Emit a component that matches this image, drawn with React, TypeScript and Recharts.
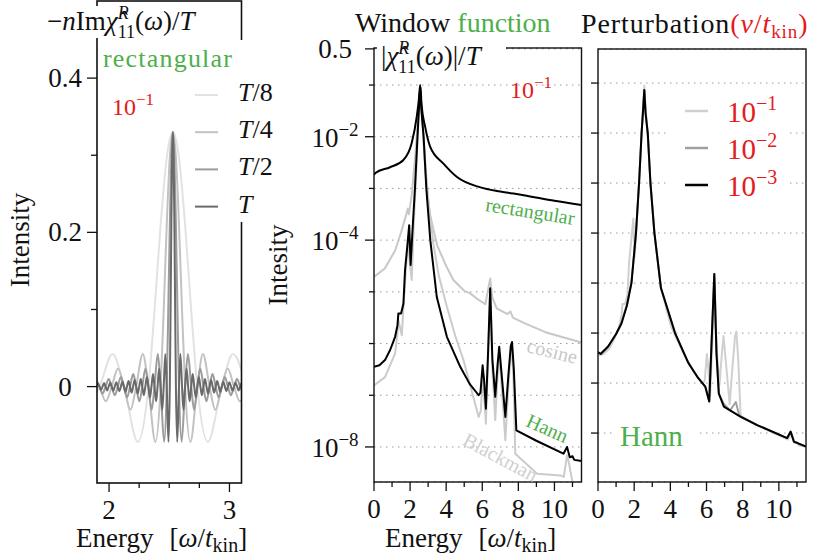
import React from 'react';
import { LineChart, Line, XAxis, YAxis, CartesianGrid } from 'recharts';

const FONT = "'Liberation Serif', 'Times New Roman', 'DejaVu Serif', serif";
const INK = '#111';
const RED = '#e41a1c';
const GREEN = '#4daf4a';

type Pt = [number, number];

// left panel: -n Im chi / T, four window lengths
const sincT8: Pt[] = [
  [1.8256, -0.0301], [1.921, 0], [2.0306, 0.0424], [2.124, 0], [2.2397, -0.0717], [2.327, 0],
  [2.3777, 0.099], [2.4285, 0.21], [2.4792, 0.297], [2.53, 0.33], [2.5808, 0.297], [2.6315, 0.21],
  [2.6823, 0.099], [2.733, 0], [2.8203, -0.0717], [2.936, 0], [3.0294, 0.0424], [3.139, 0],
];
const sincT4: Pt[] = [
  [1.8716, 0.0162], [1.9204, 0], [1.9732, -0.0191], [2.022, 0], [2.0748, 0.0234], [2.1236, 0],
  [2.1775, -0.0301], [2.2252, 0], [2.2801, 0.0424], [2.3268, 0], [2.3847, -0.0717], [2.4284, 0],
  [2.4538, 0.099], [2.4792, 0.21], [2.5046, 0.297], [2.53, 0.33], [2.5554, 0.297], [2.5808, 0.21],
  [2.6062, 0.099], [2.6316, 0], [2.6753, -0.0717], [2.7332, 0], [2.7799, 0.0424], [2.8348, 0],
  [2.8825, -0.0301], [2.9364, 0], [2.9852, 0.0234], [3.038, 0], [3.0868, -0.0191], [3.1396, 0],
];
const sincT2: Pt[] = [
  [1.8955, 0.0084], [1.9204, 0], [1.9463, -0.0091], [1.9712, 0], [1.9971, 0.01], [2.022, 0],
  [2.0479, -0.0111], [2.0728, 0], [2.0987, 0.0124], [2.1236, 0], [2.1495, -0.014], [2.1744, 0],
  [2.2008, 0.0162], [2.2252, 0], [2.2516, -0.0191], [2.276, 0], [2.3024, 0.0234], [2.3268, 0],
  [2.3537, -0.0301], [2.3776, 0], [2.405, 0.0424], [2.4284, 0], [2.4574, -0.0717], [2.4792, 0],
  [2.4919, 0.099], [2.5046, 0.21], [2.5173, 0.297], [2.53, 0.33], [2.5427, 0.297], [2.5554, 0.21],
  [2.5681, 0.099], [2.5808, 0], [2.6026, -0.0717], [2.6316, 0], [2.655, 0.0424], [2.6824, 0],
  [2.7063, -0.0301], [2.7332, 0], [2.7576, 0.0234], [2.784, 0], [2.8084, -0.0191], [2.8348, 0],
  [2.8592, 0.0162], [2.8856, 0], [2.9105, -0.014], [2.9364, 0], [2.9613, 0.0124], [2.9872, 0],
  [3.0121, -0.0111], [3.038, 0], [3.0629, 0.01], [3.0888, 0], [3.1137, -0.0091],
];
const sincT: Pt[] = [
  [1.895, 0], [1.908, 0.0043], [1.9204, 0], [1.9334, -0.0045], [1.9458, 0], [1.9588, 0.0047],
  [1.9712, 0], [1.9842, -0.0049], [1.9966, 0], [2.0096, 0.0051], [2.022, 0], [2.035, -0.0054],
  [2.0474, 0], [2.0604, 0.0057], [2.0728, 0], [2.0858, -0.006], [2.0982, 0], [2.1112, 0.0064],
  [2.1236, 0], [2.1366, -0.0068], [2.149, 0], [2.162, 0.0073], [2.1744, 0], [2.1874, -0.0078],
  [2.1998, 0], [2.2128, 0.0084], [2.2252, 0], [2.2382, -0.0091], [2.2506, 0], [2.2636, 0.01],
  [2.276, 0], [2.289, -0.0111], [2.3014, 0], [2.3144, 0.0124], [2.3268, 0], [2.3398, -0.014],
  [2.3522, 0], [2.3654, 0.0162], [2.3776, 0], [2.3908, -0.0191], [2.403, 0], [2.4162, 0.0234],
  [2.4284, 0], [2.4419, -0.0301], [2.4538, 0], [2.4675, 0.0424], [2.4792, 0], [2.4937, -0.0717],
  [2.5046, 0], [2.511, 0.099], [2.5173, 0.21], [2.5237, 0.297], [2.53, 0.33], [2.5364, 0.297],
  [2.5427, 0.21], [2.5491, 0.099], [2.5554, 0], [2.5663, -0.0717], [2.5808, 0], [2.5925, 0.0424],
  [2.6062, 0], [2.6181, -0.0301], [2.6316, 0], [2.6438, 0.0234], [2.657, 0], [2.6692, -0.0191],
  [2.6824, 0], [2.6946, 0.0162], [2.7078, 0], [2.7202, -0.014], [2.7332, 0], [2.7456, 0.0124],
  [2.7586, 0], [2.771, -0.0111], [2.784, 0], [2.7964, 0.01], [2.8094, 0], [2.8218, -0.0091],
  [2.8348, 0], [2.8472, 0.0084], [2.8602, 0], [2.8726, -0.0078], [2.8856, 0], [2.898, 0.0073],
  [2.911, 0], [2.9234, -0.0068], [2.9364, 0], [2.9488, 0.0064], [2.9618, 0], [2.9742, -0.006],
  [2.9872, 0], [2.9996, 0.0057], [3.0126, 0], [3.025, -0.0054], [3.038, 0], [3.0504, 0.0051],
  [3.0634, 0], [3.0758, -0.0049], [3.0888, 0], [3.1012, 0.0047], [3.1142, 0],
];
const lengthSeries = [sincT8, sincT4, sincT2, sincT];
const lengthLabels = ['/8', '/4', '/2', ''];
const lengthColors = ['#e2e2e2', '#c2c2c2', '#9c9c9c', '#6a6a6a'];
const leftEnergyTicks = [2, 2.25, 2.5, 2.75, 3];
const leftIntensityTicks = [0, 0.1, 0.2, 0.3, 0.4];

// middle panel: log10 |chi| / T for the window functions (perturbation 1e-1)
const rectLog: Pt[] = [
  [0, -2.74], [0.08, -2.7], [0.89, -2.59], [1.63, -2.45], [2.09, -2.12], [2.37, -1.61], [2.48, -1.3],
  [2.56, -1.0], [2.64, -1.4], [2.83, -1.8], [3.11, -2.19], [3.85, -2.52], [4.6, -2.78], [5.9, -2.98],
  [7.0, -3.06], [8.3, -3.13], [10.0, -3.24], [11.5, -3.32],
];
const cosineLog: Pt[] = [
  [0, -4.71], [0.6, -4.55], [1.17, -4.2], [1.5, -3.85], [1.75, -3.55], [1.88, -3.39], [1.93, -3.5],
  [1.97, -3.42], [2.1, -3.1], [2.3, -2.3], [2.45, -1.6], [2.56, -1.05], [2.68, -1.7], [2.85, -2.7],
  [3.1, -3.5], [3.5, -4.1], [4.0, -4.5], [4.4, -4.77], [5.0, -4.98], [5.33, -5.03], [5.7, -5.13],
  [6.17, -5.24], [6.3, -5.0], [6.44, -4.74], [6.55, -5.1], [6.8, -5.32], [7.4, -5.43], [7.56, -5.38],
  [7.7, -5.5], [8.3, -5.6], [9.5, -5.78], [11.5, -5.98],
];
const hannLog: Pt[] = [
  [0, -6.45], [0.3, -6.42], [0.61, -6.32], [0.9, -6.12], [1.17, -5.87], [1.3, -5.65], [1.35, -5.42],
  [1.5, -5.42], [1.63, -5.23], [1.72, -4.58], [1.85, -4.1], [1.95, -3.71], [2.03, -4.48], [2.12, -3.9],
  [2.27, -3.0], [2.41, -2.0], [2.5, -1.4], [2.56, -1.05], [2.63, -1.5], [2.75, -2.0], [2.9, -3.0],
  [3.12, -4.0], [3.48, -5.1], [4.04, -5.87], [4.78, -6.45], [5.3, -6.78], [5.8, -7.0], [5.9, -6.95],
  [6.02, -6.42], [6.1, -6.7], [6.2, -7.26], [6.32, -6.2], [6.44, -4.93], [6.56, -6.3], [6.72, -7.03],
  [6.85, -6.4], [6.94, -6.06], [7.05, -6.5], [7.28, -7.42], [7.45, -6.6], [7.58, -6.05], [7.65, -5.97],
  [7.75, -6.5], [7.89, -7.68], [9.0, -7.88], [10.5, -8.13], [10.7, -8.0], [10.85, -8.2], [11.0, -8.18],
  [11.1, -8.25], [11.5, -8.27],
];
const blackmanLog: Pt[] = [
  [0, -6.81], [0.61, -6.65], [1.17, -6.19], [1.3, -5.8], [1.35, -5.55], [1.45, -5.7], [1.54, -5.84],
  [1.65, -5.2], [1.8, -4.4], [1.9, -4.05], [2.0, -4.5], [2.09, -4.77], [2.2, -3.7], [2.35, -2.6],
  [2.48, -1.5], [2.56, -1.1], [2.65, -1.5], [2.8, -2.3], [3.0, -3.2], [3.3, -4.1], [3.6, -4.7],
  [4.04, -5.29], [4.5, -5.85], [4.96, -6.32], [5.4, -6.9], [5.8, -7.42], [5.92, -7.3], [6.02, -6.65],
  [6.12, -7.1], [6.2, -7.55], [6.32, -6.3], [6.44, -4.95], [6.56, -6.5], [6.72, -7.48], [6.85, -6.6],
  [6.94, -6.26], [7.05, -6.7], [7.28, -7.87], [7.45, -6.8], [7.58, -6.2], [7.65, -6.13], [7.74, -6.8],
  [7.83, -8.13], [9.04, -8.52], [10.33, -8.55], [10.52, -8.58], [10.7, -8.16], [10.8, -8.3], [10.9, -8.5],
  [11.07, -8.8], [11.5, -8.9],
];

// right panel: Hann window, perturbations 1e-1 (= hannLog), 1e-2, 1e-3
const pert2Log: Pt[] = [
  [0, -6.39], [0.15, -6.41], [0.56, -6.27], [1.0, -6.02], [1.3, -5.78], [1.6, -5.43], [1.85, -4.98],
  [2.1, -4.0], [2.27, -3.0], [2.41, -2.0], [2.5, -1.5], [2.56, -1.14], [2.63, -1.6], [2.75, -2.0],
  [2.9, -3.0], [3.12, -4.0], [3.48, -5.1], [4.26, -6.0], [5.0, -6.6], [5.5, -6.88], [5.93, -7.07],
  [6.15, -7.37], [6.3, -6.0], [6.43, -4.82], [6.55, -6.4], [6.68, -7.21], [6.96, -7.42], [7.3, -7.55],
  [7.62, -7.38], [7.8, -7.64], [8.8, -7.84], [10.46, -8.1], [10.65, -7.98], [10.83, -8.17], [11.5, -8.27],
];
const pert3Log: Pt[] = [
  [0, -6.38], [0.15, -6.42], [0.56, -6.27], [1.0, -6.02], [1.3, -5.81], [1.6, -5.45], [1.85, -5.0],
  [2.1, -4.0], [2.27, -3.0], [2.41, -2.0], [2.5, -1.5], [2.56, -1.14], [2.63, -1.6], [2.75, -2.0],
  [2.9, -3.0], [3.12, -4.0], [3.48, -5.1], [4.26, -6.0], [5.0, -6.6], [5.5, -6.88], [5.93, -7.07],
  [6.15, -7.37], [6.3, -6.0], [6.43, -4.82], [6.55, -6.4], [6.68, -7.21], [6.96, -7.47], [7.87, -7.67],
  [8.8, -7.84], [10.46, -8.1], [10.65, -7.97], [10.83, -8.17], [11.5, -8.27],
];
const perturbSeries = [hannLog, pert2Log, pert3Log];
const perturbExponents = ['1', '2', '3'];
const perturbColors = ['#d0d0d0', '#a0a0a0', '#000000'];

const energyTicks = [0, 1, 2, 3, 4, 5, 6, 7, 8, 9, 10, 11];
const midYTicks = [0.5, 1e-1, 1e-2, 1e-3, 1e-4, 1e-5, 1e-6, 1e-7, 1e-8];
const rightYTicks = [1e-1, 1e-2, 1e-3, 1e-4, 1e-5, 1e-6, 1e-7, 1e-8];
const midLabelled = [-2, -4, -8];

const rows = (pts: Pt[]) => pts.map(([x, y]) => ({ x, y }));
const logRows = (pts: Pt[]) => pts.map(([x, e]) => ({ x, y: Math.pow(10, e) }));

const txt: React.CSSProperties = { fontFamily: FONT };

const xTick = (isMajor: (v: number) => boolean) => (p: any) => {
  const v = p.payload.value;
  const major = isMajor(v);
  return (
    <g>
      <line x1={p.x} x2={p.x} y1={p.y} y2={p.y + (major ? 9 : 5)} stroke={INK} strokeWidth={1.3} />
      {major && (
        <text x={p.x} y={p.y + 36} textAnchor="middle" style={txt} fontSize={27} fill={INK}>
          {v}
        </text>
      )}
    </g>
  );
};

const leftYTick = (p: any) => {
  const v = p.payload.value;
  const major = Math.round(v * 10) % 2 === 0;
  return (
    <g>
      <line x1={p.x - (major ? 10 : 6)} x2={p.x} y1={p.y} y2={p.y} stroke={INK} strokeWidth={1.3} />
      {major && (
        <text x={p.x - 32} y={p.y + 9} textAnchor="middle" style={txt} fontSize={27} fill={INK}>
          {v === 0 ? '0' : v.toFixed(1)}
        </text>
      )}
    </g>
  );
};

const midYTick = (p: any) => {
  const v = p.payload.value;
  const e = Math.round(Math.log10(v));
  const labelled = v === 0.5 || midLabelled.includes(e);
  return (
    <g>
      <line x1={p.x - (labelled ? 9 : 5)} x2={p.x} y1={p.y} y2={p.y} stroke={INK} strokeWidth={1.3} />
      {v === 0.5 && (
        <text x={p.x - 39} y={p.y + 9} textAnchor="middle" style={txt} fontSize={27} fill={INK}>0.5</text>
      )}
      {v !== 0.5 && labelled && (
        <text x={p.x - 39} y={p.y + 10} textAnchor="middle" style={txt} fontSize={27} fill={INK}>
          10<tspan fontSize={19} dy={-11}>−{-e}</tspan>
        </text>
      )}
    </g>
  );
};

const rightYTick = (p: any) => (
  <line x1={p.x - 7} x2={p.x} y1={p.y} y2={p.y} stroke={INK} strokeWidth={1.3} />
);

const EnergyLabel = ({ x }: { x: number }) => (
  <text x={x} y={547} fontSize={27} fill={INK}>
    Energy<tspan dx={16}>[</tspan>
    <tspan fontStyle="italic">ω</tspan>/<tspan fontStyle="italic">t</tspan>
    <tspan fontSize={20} dy={5}>kin</tspan>
    <tspan dy={-5}>]</tspan>
  </text>
);

// hat-chi with superscript R, subscript 11 and "(omega"
const Chi = () => (
  <>
    <tspan fontStyle="italic">{'χ\u0302'}</tspan>
    <tspan fontSize={18} fontStyle="italic" dy={-11}>R</tspan>
    <tspan fontSize={18} dx={-11} dy={19}>11</tspan>
    <tspan dy={-8}>(</tspan>
    <tspan fontStyle="italic">ω</tspan>
  </>
);

const lineProps = {
  dataKey: 'y',
  dot: false,
  activeDot: false,
  isAnimationActive: false,
  strokeLinejoin: 'round' as const,
};

const layer: React.CSSProperties = { position: 'absolute', left: 0, top: 0 };

export default function App() {
  return (
    <div style={{ position: 'absolute', left: 0, top: 0, width: 814, height: 560, background: '#fff', fontFamily: FONT }}>
      <div style={layer}>
        <LineChart width={814} height={560} margin={{ top: 1, right: 572.5, bottom: 37, left: 37 }}>
          <XAxis
            dataKey="x"
            type="number"
            domain={[1.9, 3.1]}
            ticks={leftEnergyTicks}
            interval={0}
            allowDataOverflow
            height={40}
            axisLine={false}
            tickLine={false}
            tickSize={0}
            tickMargin={0}
            tick={xTick((v) => v === 2 || v === 3)}
          />
          <YAxis
            type="number"
            domain={[-0.125, 0.5]}
            ticks={leftIntensityTicks}
            interval={0}
            allowDataOverflow
            width={60}
            axisLine={false}
            tickLine={false}
            tickSize={0}
            tickMargin={0}
            tick={leftYTick}
          />
          {lengthSeries.map((s, i) => (
            <Line key={i} {...lineProps} data={rows(s)} type="monotone" stroke={lengthColors[i]} strokeWidth={2} />
          ))}
        </LineChart>
      </div>

      <div style={layer}>
        <LineChart width={814} height={560} margin={{ top: 48, right: 232.5, bottom: 38, left: 314 }}>
          <CartesianGrid vertical={false} stroke="#999" strokeDasharray="1.5 4.5" />
          <XAxis
            dataKey="x"
            type="number"
            domain={[0, 11.5]}
            ticks={energyTicks}
            interval={0}
            allowDataOverflow
            height={40}
            axisLine={false}
            tickLine={false}
            tickSize={0}
            tickMargin={0}
            tick={xTick((v) => v % 2 === 0)}
          />
          <YAxis
            type="number"
            scale="log"
            domain={[2.1e-9, 0.52]}
            ticks={midYTicks}
            interval={0}
            allowDataOverflow
            width={60}
            axisLine={false}
            tickLine={false}
            tickSize={0}
            tickMargin={0}
            tick={midYTick}
          />
          <Line {...lineProps} data={logRows(blackmanLog)} type="linear" stroke="#cbcbcb" strokeWidth={2} />
          <Line {...lineProps} data={logRows(cosineLog)} type="linear" stroke="#c8c8c8" strokeWidth={2} />
          <Line {...lineProps} data={logRows(hannLog)} type="linear" stroke="#000" strokeWidth={2} />
          <Line {...lineProps} data={logRows(rectLog)} type="monotone" stroke="#000" strokeWidth={2} />
        </LineChart>
      </div>

      <div style={layer}>
        <LineChart width={814} height={560} margin={{ top: 49, right: 8, bottom: 38, left: 538 }}>
          <CartesianGrid vertical={false} stroke="#999" strokeDasharray="1.5 4.5" />
          <XAxis
            dataKey="x"
            type="number"
            domain={[0, 11.5]}
            ticks={energyTicks}
            interval={0}
            allowDataOverflow
            height={40}
            axisLine={false}
            tickLine={false}
            tickSize={0}
            tickMargin={0}
            tick={xTick((v) => v % 2 === 0)}
          />
          <YAxis
            type="number"
            scale="log"
            domain={[1.05e-9, 0.48]}
            ticks={rightYTicks}
            interval={0}
            allowDataOverflow
            width={60}
            axisLine={false}
            tickLine={false}
            tickSize={0}
            tickMargin={0}
            tick={rightYTick}
          />
          {perturbSeries.map((s, i) => (
            <Line key={i} {...lineProps} data={logRows(s)} type="linear" stroke={perturbColors[i]} strokeWidth={2} />
          ))}
        </LineChart>
      </div>

      <svg width={814} height={560} style={{ ...layer, pointerEvents: 'none', fontFamily: FONT }}>
        {/* frames */}
        <rect x={97} y={1} width={144.5} height={482} fill="none" stroke={INK} strokeWidth={1.6} />
        <rect x={374} y={48} width={207.5} height={434} fill="none" stroke={INK} strokeWidth={1.4} />
        <rect x={598} y={49} width={208} height={433} fill="none" stroke={INK} strokeWidth={1.4} />

        {/* left panel annotations */}
        <rect x={44} y={6} width={182} height={32} fill="#fff" />
        <text x={47} y={30} fontSize={27} fill={INK}>
          −<tspan fontStyle="italic">n</tspan>Im<Chi />)/<tspan fontStyle="italic">T</tspan>
        </text>
        <rect x={100} y={40} width={146} height={34} fill="#fff" />
        <text x={103} y={67} fontSize={26} fill={GREEN} letterSpacing={1.2}>rectangular</text>
        <text x={112} y={115} fontSize={24} fill={RED}>
          10<tspan fontSize={17} dy={-10}>−1</tspan>
        </text>
        <rect x={188} y={74} width={88} height={148} fill="#fff" />
        {lengthLabels.map((l, i) => (
          <g key={l}>
            <line x1={195} x2={218} y1={95 + 37.2 * i} y2={95 + 37.2 * i} stroke={lengthColors[i]} strokeWidth={2} />
            <text x={238} y={101 + 37.2 * i} fontSize={26} fill={INK}>
              <tspan fontStyle="italic">T</tspan>{l}
            </text>
          </g>
        ))}
        <text x={20} y={240} fontSize={27} fill={INK} textAnchor="middle" dominantBaseline="central" transform="rotate(-90 20 240)">
          Intensity
        </text>
        <EnergyLabel x={76} />

        {/* middle panel annotations */}
        <text x={355} y={32} fontSize={28} fill={INK}>
          Window <tspan fill={GREEN}>function</tspan>
        </text>
        <rect x={377} y={38} width={129} height={37} fill="#fff" />
        <text x={381} y={65} fontSize={27} fill={INK}>
          |<Chi />)|/<tspan fontStyle="italic">T</tspan>
        </text>
        <text x={510} y={98} fontSize={24} fill={RED}>
          10<tspan fontSize={17} dy={-10}>−1</tspan>
        </text>
        <text x={530} y={218} fontSize={20} fill={GREEN} textAnchor="middle" transform="rotate(9 530 212)">rectangular</text>
        <text x={552} y={358} fontSize={20} fill="#c8c8c8" textAnchor="middle" transform="rotate(14 552 352)">cosine</text>
        <text x={547} y={435} fontSize={20} fill={GREEN} textAnchor="middle" transform="rotate(24 547 429)">Hann</text>
        <text x={500} y={464} fontSize={20} fill="#d0d0d0" textAnchor="middle" transform="rotate(28 500 458)">Blackman</text>
        <text x={278} y={265} fontSize={27} fill={INK} textAnchor="middle" dominantBaseline="central" transform="rotate(-90 278 265)">
          Intesity
        </text>
        <EnergyLabel x={385} />

        {/* right panel annotations */}
        <text x={581} y={33} fontSize={28} fill={INK} letterSpacing={0.9}>
          Perturbation<tspan fill={RED}>(</tspan>
          <tspan fill={RED} fontStyle="italic">v</tspan>
          <tspan fill={RED}>/</tspan>
          <tspan fill={RED} fontStyle="italic">t</tspan>
          <tspan fill={RED} fontSize={19} dy={5}>kin</tspan>
          <tspan fill={RED} dy={-5}>)</tspan>
        </text>
        <rect x={668} y={93} width={122} height={110} fill="#fff" />
        {perturbExponents.map((k, i) => (
          <g key={k}>
            <line x1={685} x2={708} y1={111 + 37 * i} y2={111 + 37 * i} stroke={perturbColors[i]} strokeWidth={2.5} />
            <text x={727} y={122 + 37 * i} fontSize={29} fill={RED}>
              10<tspan fontSize={20} dy={-12}>−{k}</tspan>
            </text>
          </g>
        ))}
        <rect x={614} y={418} width={86} height={36} fill="#fff" />
        <text x={620} y={446} fontSize={29} fill={GREEN}>Hann</text>
      </svg>
    </div>
  );
}
